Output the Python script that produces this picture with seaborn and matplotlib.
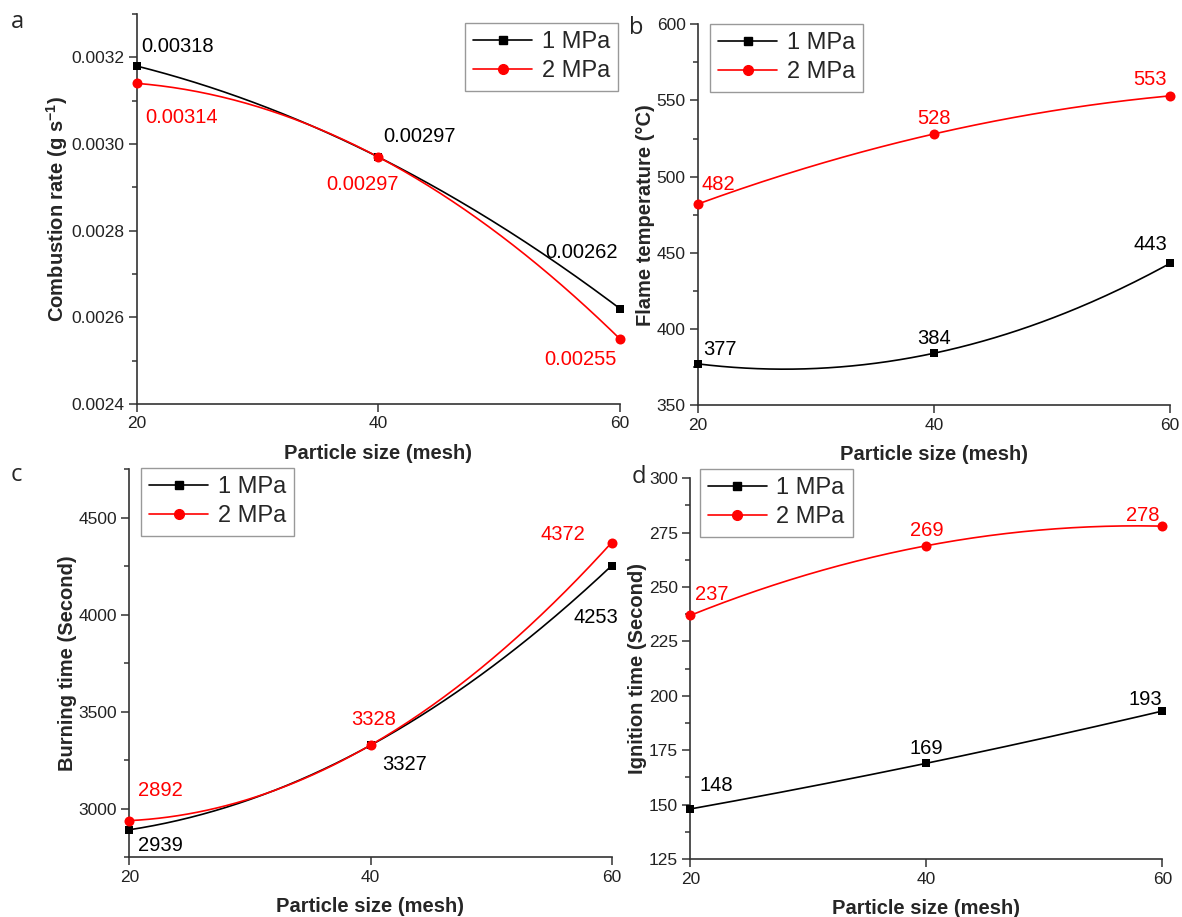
import numpy as np
import matplotlib
matplotlib.use('Agg')
import matplotlib.pyplot as plt
import seaborn as sns
from matplotlib.lines import Line2D
from matplotlib.ticker import MultipleLocator, FormatStrFormatter

mesh = [20, 40, 60]

rate_1mpa = [0.00318, 0.00297, 0.00262]
rate_2mpa = [0.00314, 0.00297, 0.00255]
rate_1mpa_labels = ['0.00318', '0.00297', '0.00262']
rate_2mpa_labels = ['0.00314', '0.00297', '0.00255']

temp_1mpa = [377, 384, 443]
temp_2mpa = [482, 528, 553]
temp_1mpa_labels = ['377', '384', '443']
temp_2mpa_labels = ['482', '528', '553']

burn_1mpa = [2892, 3327, 4253]
burn_2mpa = [2939, 3328, 4372]
burn_1mpa_labels = ['2939', '3327', '4253']
burn_2mpa_labels = ['2892', '3328', '4372']

ign_1mpa = [148, 169, 193]
ign_2mpa = [237, 269, 278]
ign_1mpa_labels = ['148', '169', '193']
ign_2mpa_labels = ['237', '269', '278']

series_names = ['1 MPa', '2 MPa']

sns.set_style('ticks')
plt.rcParams['font.family'] = ['Liberation Sans', 'DejaVu Sans']
plt.rcParams['mathtext.fontset'] = 'custom'
plt.rcParams['mathtext.bf'] = 'Liberation Sans:bold'
plt.rcParams['mathtext.rm'] = 'Liberation Sans'

W, H = 1182, 917
fig = plt.figure(figsize=(W / 100, H / 100), dpi=100)


def px_axes(left, top, right, bottom):
    return fig.add_axes([left / W, 1 - bottom / H, (right - left) / W, (bottom - top) / H])


def smooth(x, y):
    xs = np.linspace(min(x), max(x), 200)
    return xs, np.polyval(np.polyfit(x, y, 2), xs)


panels = [
    dict(box=(136.6, 14, 620, 404), letter='a', letter_xy=(17, 22),
         y1=rate_1mpa, y2=rate_2mpa, l1=rate_1mpa_labels, l2=rate_2mpa_labels,
         off1=[(41, -19), (41, -20), (-38, -56)], off2=[(45, 34), (-16, 28), (-40, 21)],
         ylim=(0.0024, 0.0033), major=0.0002, minor=0.0001, fmt='%.4f',
         ylabel='Combustion rate (g s$\\mathbf{^{-1}}$)', leg=(465, 23)),
    dict(box=(698, 24.3, 1170, 405), letter='b', letter_xy=(636, 28),
         y1=temp_1mpa, y2=temp_2mpa, l1=temp_1mpa_labels, l2=temp_2mpa_labels,
         off1=[(22, -14), (0, -15), (-20, -19)], off2=[(20, -19), (0, -15), (-20, -16)],
         ylim=(350, 600), major=50, minor=25, fmt='%d',
         ylabel='Flame temperature (°C)', leg=(710, 24)),
    dict(box=(129.4, 469.3, 611.6, 857.3), letter='c', letter_xy=(16, 475),
         y1=burn_1mpa, y2=burn_2mpa, l1=burn_1mpa_labels, l2=burn_2mpa_labels,
         off1=[(31, 16), (34, 19), (-16, 52)], off2=[(31, -30), (3, -26), (-49, -8)],
         ylim=(2750, 4750), major=500, minor=250, fmt='%d',
         ylabel='Burning time (Second)', leg=(141, 468)),
    dict(box=(690.4, 478.3, 1162.3, 859), letter='d', letter_xy=(639, 477),
         y1=ign_1mpa, y2=ign_2mpa, l1=ign_1mpa_labels, l2=ign_2mpa_labels,
         off1=[(26, -23), (0, -15), (-17, -12)], off2=[(21, -21), (0, -15), (-20, -11)],
         ylim=(125, 300), major=25, minor=12.5, fmt='%d',
         ylabel='Ignition time (Second)', leg=(699.5, 469)),
]

colors = ['black', 'red']
markers = ['s', 'o']
sizes = [38, 52]

for p in panels:
    ax = px_axes(*p['box'])
    for vals, labels, offs, c, m, s in [(p['y1'], p['l1'], p['off1'], colors[0], markers[0], sizes[0]),
                                        (p['y2'], p['l2'], p['off2'], colors[1], markers[1], sizes[1])]:
        xs, ys = smooth(mesh, vals)
        sns.lineplot(x=xs, y=ys, ax=ax, color=c, lw=1.2)
        sns.scatterplot(x=mesh, y=vals, ax=ax, marker=m, s=s, color=c, edgecolor=c,
                        linewidth=0, clip_on=False, zorder=4)
        for x, v, t, (dx, dy) in zip(mesh, vals, labels, offs):
            ax.annotate(t, (x, v), xytext=(dx, -dy), textcoords='offset pixels',
                        ha='center', va='center', fontsize=14.5, color=c)

    ax.set_xlim(20, 60)
    ax.set_ylim(*p['ylim'])
    ax.set_xticks(mesh)
    ax.yaxis.set_major_locator(MultipleLocator(p['major']))
    ax.yaxis.set_minor_locator(MultipleLocator(p['minor']))
    ax.yaxis.set_major_formatter(FormatStrFormatter(p['fmt']))
    sns.despine(ax=ax)
    for sp in ['left', 'bottom']:
        ax.spines[sp].set_linewidth(1.2)
        ax.spines[sp].set_color('#333333')
    ax.tick_params(which='major', direction='out', length=6, width=1.1, pad=3,
                   labelsize=12.5, colors='#333333', labelcolor='#222222')
    ax.tick_params(which='minor', direction='out', length=3.5, width=1.1, colors='#333333')
    ax.set_xlabel('Particle size (mesh)', fontsize=14.5, fontweight='bold', labelpad=9)
    ax.set_ylabel(p['ylabel'], fontsize=14.5, fontweight='bold', labelpad=1)

    handles = [Line2D([], [], color=colors[i], marker=markers[i], markersize=7 if i else 6, lw=1.2)
                for i in range(2)]
    lx, ly = p['leg']
    leg = ax.legend(handles, series_names, loc='upper left', bbox_to_anchor=(lx / W, 1 - ly / H),
                    bbox_transform=fig.transFigure, borderaxespad=0, fontsize=17,
                    frameon=True, fancybox=False, edgecolor='#999999', framealpha=1,
                    handlelength=2.5, handletextpad=0.4, labelspacing=0.3, borderpad=0.35)
    leg.get_frame().set_linewidth(1.0)

    fig.text(p['letter_xy'][0] / W, 1 - p['letter_xy'][1] / H, p['letter'],
             fontsize=17, family='Open Sans', ha='center', va='center')

fig.savefig('out.png', dpi=100)
